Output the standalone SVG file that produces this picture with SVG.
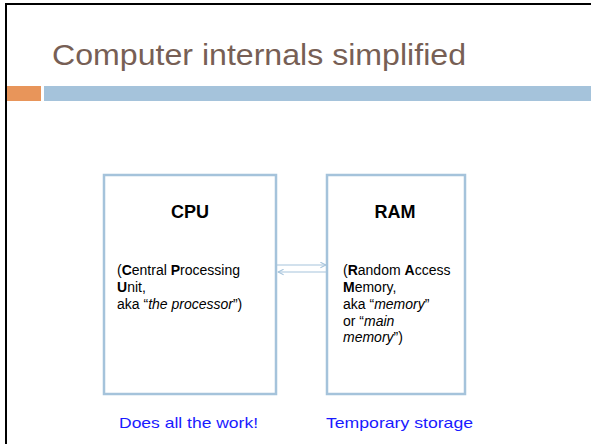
<svg xmlns="http://www.w3.org/2000/svg" width="591" height="444" viewBox="0 0 591 444">
<defs>
<style>
.box{fill:#fff;stroke:#A5C3DB;stroke-width:2.5}
.conn{stroke:#A5C3DB;stroke-width:1.2;fill:none}
.head{font-family:"Liberation Sans",Arial,sans-serif;font-weight:bold;font-size:18px;fill:#000;text-anchor:middle}
.body{font-family:"Liberation Sans",Arial,sans-serif;font-size:14px;fill:#000}
.note{font-family:"Liberation Sans",Arial,sans-serif;font-size:15px;fill:#1a1aff}
.title{font-family:"Liberation Sans",Arial,sans-serif;font-size:30px;fill:#775F55}
</style>
<marker id="arr" viewBox="0 0 10 10" refX="9" refY="5" markerWidth="7" markerHeight="7" orient="auto" markerUnits="userSpaceOnUse">
<path d="M1,1 L9,5 L1,9" fill="none" stroke="#A5C3DB" stroke-width="1.5"/>
</marker>
</defs>
<rect width="591" height="444" fill="#fff"/>
<g id="frame">
<rect x="5" y="3" width="2" height="441" fill="#000"/>
<rect x="5" y="3" width="586" height="2" fill="#000"/>
</g>
<g id="header">
<text class="title" x="52" y="65" textLength="414" lengthAdjust="spacingAndGlyphs">Computer internals simplified</text>
<rect x="7" y="86" width="34" height="15" fill="#E8955A"/>
<rect x="44" y="86" width="547" height="15" fill="#A5C3DB"/>
</g>
<g id="cpu">
<rect class="box" x="104" y="175" width="172" height="219"/>
<text class="head" x="190" y="218">CPU</text>
<text class="body" x="117" y="275">(<tspan font-weight="bold">C</tspan>entral <tspan font-weight="bold">P</tspan>rocessing</text>
<text class="body" x="117" y="292"><tspan font-weight="bold">U</tspan>nit,</text>
<text class="body" x="117" y="308.5">aka “<tspan font-style="italic">the processor</tspan>”)</text>
<text class="note" x="119" y="428" textLength="139" lengthAdjust="spacingAndGlyphs">Does all the work!</text>
</g>
<g id="ram">
<rect class="box" x="327" y="175" width="138" height="219"/>
<text class="head" x="395" y="218">RAM</text>
<text class="body" x="343" y="275">(<tspan font-weight="bold">R</tspan>andom <tspan font-weight="bold">A</tspan>ccess</text>
<text class="body" x="343" y="292"><tspan font-weight="bold">M</tspan>emory,</text>
<text class="body" x="343" y="308.5">aka “<tspan font-style="italic">memory</tspan>”</text>
<text class="body" x="343" y="325.5">or “<tspan font-style="italic">main</tspan></text>
<text class="body" x="343" y="342"><tspan font-style="italic">memory</tspan>”)</text>
<text class="note" x="326" y="428" textLength="147" lengthAdjust="spacingAndGlyphs">Temporary storage</text>
</g>
<g id="connectors">
<line class="conn" x1="277" y1="265" x2="326" y2="265" marker-end="url(#arr)"/>
<line class="conn" x1="326" y1="272" x2="278" y2="272" marker-end="url(#arr)"/>
</g>
</svg>
